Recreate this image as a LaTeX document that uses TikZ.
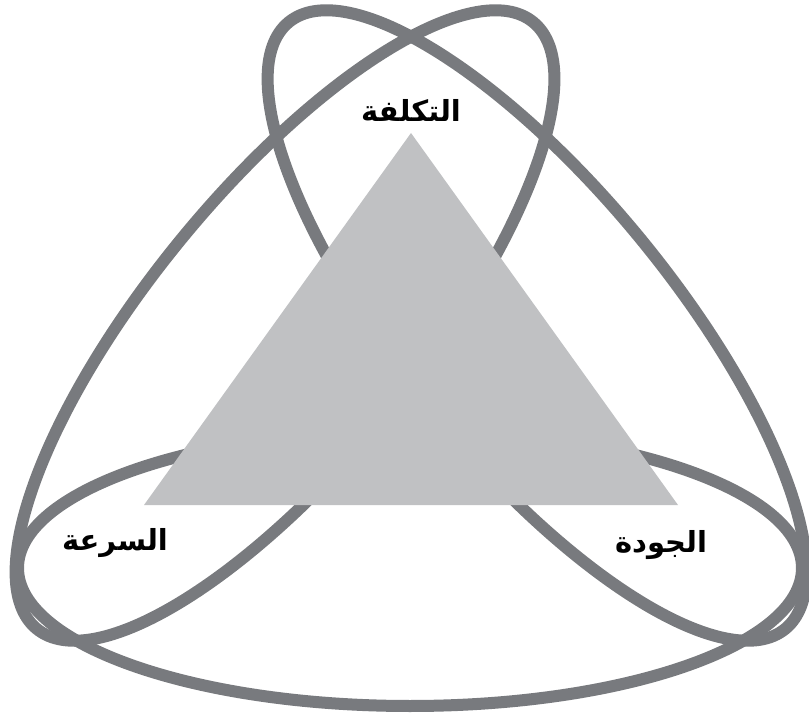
\documentclass[tikz,border=0pt]{standalone}
\usepackage{fontspec}
\newfontfamily\arabicfont[Script=Arabic]{DejaVu Sans}
\TeXXeTstate=1
\definecolor{loopgray}{RGB}{120,122,126}
\definecolor{trigray}{RGB}{192,193,195}
\tikzset{
  loopline/.style={draw=loopgray, line width=12pt},
  lbl/.style={font=\arabicfont\bfseries\fontsize{29}{32}\selectfont, text=black, inner sep=0pt}
}
\begin{document}
\begin{tikzpicture}[x=1pt,y=1pt]
  \useasboundingbox (0,0) rectangle (809,716);
  % bottom loop
  \coordinate (cB) at (410,148);
  \draw[loopline] (cB) ellipse (392 and 138);
  % loop from top right to bottom left
  \coordinate (cL) at (285,390.5);
  \draw[loopline, rotate around={50.7:(cL)}] (cL) ellipse (392 and 135);
  % loop from top left to bottom right
  \coordinate (cR) at (537,390.5);
  \draw[loopline, rotate around={129.3:(cR)}] (cR) ellipse (392 and 135);
  % triangle
  \coordinate (apex) at (411,583);
  \coordinate (bl) at (144,211);
  \coordinate (br) at (678,211);
  \fill[trigray] (apex) -- (bl) -- (br) -- cycle;
  % labels
  \node[lbl] (cost) at (411,606) {\beginR التكلفة\endR};
  \node[lbl] (speed) at (115,173) {\beginR السرعة\endR};
  \node[lbl] (quality) at (661,171) {\beginR الجودة\endR};
\end{tikzpicture}
\end{document}
